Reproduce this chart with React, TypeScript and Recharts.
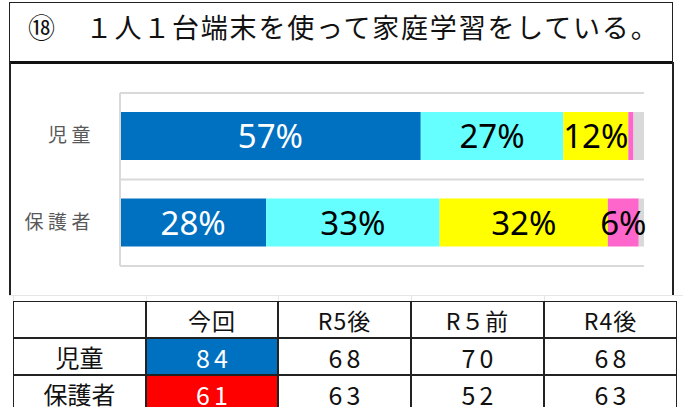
import React from 'react';
import { BarChart, Bar, XAxis, YAxis, CartesianGrid, LabelList } from 'recharts';

const categories = ['児童', '保護者'];
const veryMuch = [57.4, 27.9];
const somewhat = [27.2, 33.1];
const notMuch = [12.4, 32.1];
const notAtAll = [1.0, 5.9];
const noAnswer = [2.0, 1.0];

const titleText = '⑱　１人１台端末を使って家庭学習をしている。';

const tableHeaders = ['今回', 'R5後', 'R５前', 'R4後'];
const tableRowLabels = ['児童', '保護者'];
const childScores = [84, 68, 70, 68];
const parentScores = [61, 63, 52, 63];
const tableScores = [childScores, parentScores];
const highlightColors = ['#0070C0', '#FF0000'];

const seriesKeys = ['veryMuch', 'somewhat', 'notMuch', 'notAtAll', 'noAnswer'];
const seriesColors = ['#0070C0', '#66FFFF', '#FFFF00', '#FF66CC', '#D9D9D9'];
const labelColors = ['#FFFFFF', '#000000', '#000000', '#000000', '#000000'];

const data = categories.map((name, i) => ({
  name,
  veryMuch: veryMuch[i],
  somewhat: somewhat[i],
  notMuch: notMuch[i],
  notAtAll: notAtAll[i],
  noAnswer: noAnswer[i],
}));

const CJK = '"Noto Sans CJK JP", "Noto Sans", sans-serif';
const LABEL_FONT = '"Noto Sans", sans-serif';

const YTick = (props: any) => {
  const { x, y, payload } = props;
  return (
    <text
      x={x - 17}
      y={y}
      dy={6}
      textAnchor="end"
      fill="#595959"
      fontSize={19}
      fontFamily={CJK}
      letterSpacing={4.5}
    >
      {payload.value}
    </text>
  );
};

const makeLabel = (color: string) => (props: any) => {
  const { x, y, width, height, value } = props;
  if (value < 5) return null;
  return (
    <text
      x={x + width / 2}
      y={y + height / 2}
      dy={12}
      textAnchor="middle"
      fill={color}
      fontSize={33}
      fontFamily={LABEL_FONT}
    >
      {`${Math.round(value)}%`}
    </text>
  );
};

const colX = [13, 146, 278, 411, 544, 677];
const rowY = [301, 338, 375, 412];

export default function App() {
  return (
    <div style={{ position: 'absolute', left: 0, top: 0, width: 683, height: 407, background: '#fff', overflow: 'hidden' }}>
      {/* Title box */}
      <div
        style={{
          position: 'absolute',
          left: 9,
          top: 2,
          width: 662,
          height: 58,
          borderTop: '1.5px solid #222',
          borderLeft: '1.5px solid #222',
          borderRight: '1.5px solid #222',
          borderBottom: '3px solid #111',
        }}
      />
      <div
        style={{
          position: 'absolute',
          left: 28,
          top: 8,
          fontFamily: CJK,
          fontSize: 27,
          letterSpacing: 1.8,
          color: '#111',
          whiteSpace: 'nowrap',
          lineHeight: '38px',
        }}
      >
        {titleText}
      </div>
      {/* chart box sides */}
      <div style={{ position: 'absolute', left: 9, top: 62, width: 1.5, height: 233, background: '#222' }} />
      <div style={{ position: 'absolute', left: 672, top: 62, width: 1.5, height: 233, background: '#222' }} />
      <div style={{ position: 'absolute', left: 9, top: 295, width: 674, height: 1, background: '#e6e6e6' }} />

      <div style={{ position: 'absolute', left: 0, top: 0 }}>
        <BarChart
          width={683}
          height={407}
          data={data}
          layout="vertical"
          margin={{ top: 93, right: 39, bottom: 141, left: 0 }}
          barCategoryGap="22%"
        >
          <CartesianGrid
            vertical={false}
            stroke="#D9D9D9"
            strokeWidth={2}
            horizontalCoordinatesGenerator={({ offset }: any) => [
              offset.top,
              offset.top + offset.height / 2,
              offset.top + offset.height,
            ]}
          />
          <XAxis type="number" domain={[0, 100]} hide />
          <YAxis
            type="category"
            dataKey="name"
            width={120}
            axisLine={{ stroke: '#D9D9D9', strokeWidth: 2 }}
            tickLine={false}
            tick={<YTick />}
          />
          {seriesKeys.map((k, i) => (
            <Bar key={k} dataKey={k} stackId="a" fill={seriesColors[i]} isAnimationActive={false}>
              <LabelList dataKey={k} content={makeLabel(labelColors[i])} />
            </Bar>
          ))}
        </BarChart>
      </div>

      {/* Table */}
      {colX.slice(0, -1).map((x, c) => (
        <div key={'g' + c} style={{ position: 'absolute', left: x, top: 296, width: 1, height: 5, background: '#e6e6e6' }} />
      ))}
      {[''].concat(tableHeaders).map((h, c) => (
        <div
          key={'h' + c}
          style={{
            position: 'absolute',
            left: colX[c],
            top: rowY[0],
            width: colX[c + 1] - colX[c],
            height: rowY[1] - rowY[0],
            boxSizing: 'border-box',
            border: '1.5px solid #222',
            display: 'flex',
            alignItems: 'center',
            justifyContent: 'center',
            fontFamily: CJK,
            fontSize: 23,
            letterSpacing: 1,
            color: '#111',
          }}
        >
          {h}
        </div>
      ))}
      {tableRowLabels.map((lab, r) => (
        <React.Fragment key={'r' + r}>
          <div
            style={{
              position: 'absolute',
              left: colX[0],
              top: rowY[r + 1],
              width: colX[1] - colX[0],
              height: rowY[r + 2] - rowY[r + 1],
              boxSizing: 'border-box',
              border: '1.5px solid #222',
              display: 'flex',
              alignItems: 'center',
              justifyContent: 'center',
              fontFamily: CJK,
              fontSize: 24,
              color: '#111',
            }}
          >
            {lab}
          </div>
          {tableScores[r].map((v, c) => (
            <div
              key={'c' + c}
              style={{
                position: 'absolute',
                left: colX[c + 1],
                top: rowY[r + 1],
                width: colX[c + 2] - colX[c + 1],
                height: rowY[r + 2] - rowY[r + 1],
                boxSizing: 'border-box',
                border: '1.5px solid #222',
                background: c === 0 ? highlightColors[r] : '#fff',
                display: 'flex',
                alignItems: 'center',
                justifyContent: 'center',
                fontFamily: CJK,
                fontSize: 25,
                letterSpacing: 4,
                paddingLeft: 4,
                color: c === 0 ? '#fff' : '#111',
              }}
            >
              {v}
            </div>
          ))}
        </React.Fragment>
      ))}
    </div>
  );
}
